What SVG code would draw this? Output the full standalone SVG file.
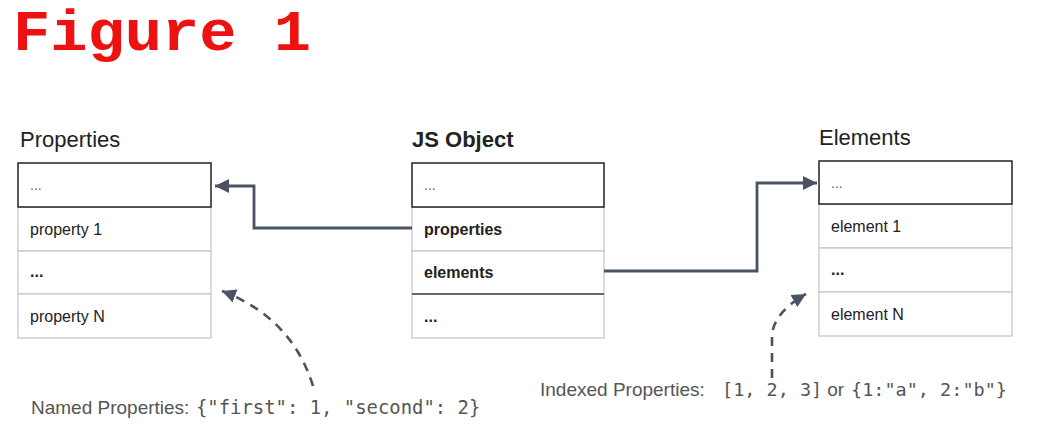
<svg xmlns="http://www.w3.org/2000/svg" width="1048" height="429" viewBox="0 0 1048 429">
<style>
.title{font-family:"Liberation Sans",Arial,sans-serif;font-size:22px;fill:#222}
.bold{font-weight:bold}
.cell{font-family:"Liberation Sans",Arial,sans-serif;font-size:16px;fill:#222}
.cellb{font-family:"Liberation Sans",Arial,sans-serif;font-size:16px;font-weight:bold;fill:#222}
.dots{font-family:"Liberation Sans",Arial,sans-serif;font-size:14px;fill:#666}
.row{fill:#fff;stroke:#c4c4c4;stroke-width:1.2}
.head{fill:#fff;stroke:#222;stroke-width:1.5}
.note{font-family:"Liberation Sans",Arial,sans-serif;font-size:19px;fill:#555}
.mono{font-family:"DejaVu Sans Mono","Liberation Mono",monospace;font-size:18.5px}
.conn{fill:none;stroke:#4a5361;stroke-width:2.8}
.dash{fill:none;stroke:#4a5361;stroke-width:2.6;stroke-dasharray:9 7}
</style>
<defs>
<marker id="arr" markerUnits="userSpaceOnUse" markerWidth="16" markerHeight="14" refX="14" refY="7" orient="auto">
<path d="M0,0 L14,7 L0,14 Z" fill="#4a5361"/>
</marker>
</defs>
<g id="figure-title">
<text x="13" y="50" font-family="'Liberation Mono','Courier New',monospace" font-size="57" font-weight="bold" fill="#ee1111" textLength="298" lengthAdjust="spacingAndGlyphs">Figure 1</text>
</g>

<g id="properties">
<text class="title" x="20" y="147">Properties</text>
<rect class="row" x="18" y="207" width="193" height="44"/>
<rect class="row" x="18" y="251" width="193" height="43"/>
<rect class="row" x="18" y="294" width="193" height="44"/>
<rect class="head" x="18" y="163" width="193" height="44"/>
<text class="dots" x="30" y="190">...</text>
<text class="cell" x="30" y="235">property 1</text>
<text class="cellb" x="30" y="277">...</text>
<text class="cell" x="30" y="322">property N</text>
</g>

<g id="jsobject">
<text class="title bold" x="412" y="147">JS Object</text>
<rect class="row" x="412" y="207" width="192" height="44"/>
<rect class="row" x="412" y="251" width="192" height="43"/>
<rect class="row" x="412" y="294" width="192" height="44"/>
<line x1="412" y1="294" x2="604" y2="294" stroke="#444" stroke-width="1.5"/>
<rect class="head" x="412" y="163" width="192" height="44"/>
<text class="dots" x="424" y="190">...</text>
<text class="cellb" x="424" y="235">properties</text>
<text class="cellb" x="424" y="278">elements</text>
<text class="cellb" x="424" y="322">...</text>
</g>

<g id="elements">
<text class="title" x="819" y="145">Elements</text>
<rect class="row" x="819" y="204" width="193" height="44"/>
<rect class="row" x="819" y="248" width="193" height="44"/>
<rect class="row" x="819" y="292" width="193" height="44"/>
<rect class="head" x="819" y="161" width="193" height="43"/>
<text class="dots" x="831" y="188">...</text>
<text class="cell" x="831" y="232">element 1</text>
<text class="cellb" x="831" y="275">...</text>
<text class="cell" x="831" y="320">element N</text>
</g>

<g id="named-label">
<text class="note" x="31" y="414">Named Properties: <tspan class="mono" x="196" style="font-size:18.9px">{"first": 1, "second": 2}</tspan></text>
</g>
<g id="indexed-label">
<text class="note" x="540" y="396">Indexed Properties: <tspan class="mono" x="722">[1, 2, 3]</tspan><tspan x="822"> or </tspan><tspan class="mono" x="851">{1:"a", 2:"b"}</tspan></text>
</g>

<g id="connectors">
<path class="conn" d="M412,228 L254,228 L254,186 L215,186" marker-end="url(#arr)"/>
<path class="conn" d="M604,271 L757,271 L757,183 L817,183" marker-end="url(#arr)"/>
<path class="dash" d="M313,386 Q292,318 222,291" marker-end="url(#arr)"/>
<path class="dash" d="M772,378 L772,336 Q773,313 806,294" marker-end="url(#arr)"/>
</g>
</svg>
